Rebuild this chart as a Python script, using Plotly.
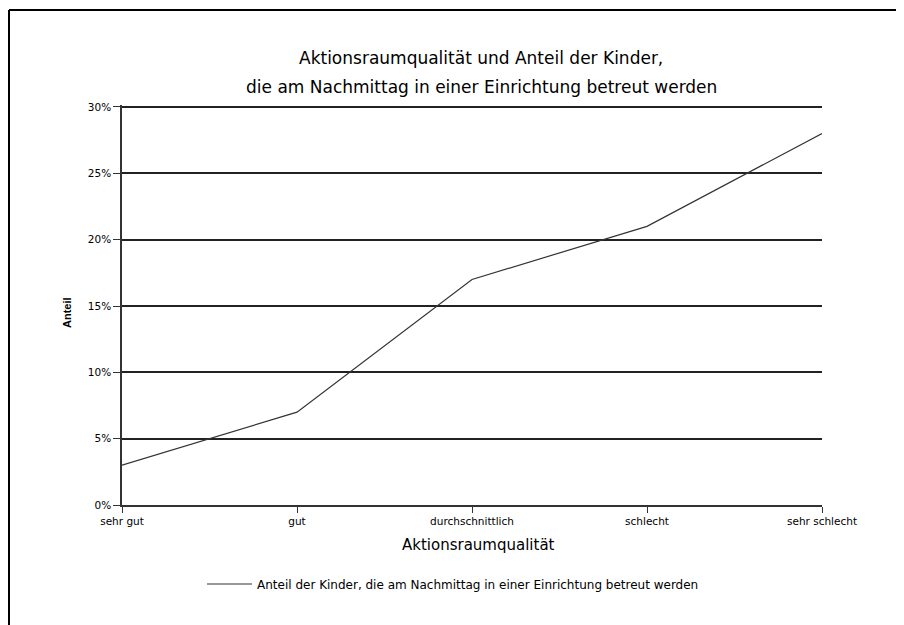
import plotly.graph_objects as go

categories = ["sehr gut", "gut", "durchschnittlich", "schlecht", "sehr schlecht"]
anteil = [0.03, 0.07, 0.17, 0.21, 0.28]
series_name = "Anteil der Kinder, die am Nachmittag in einer Einrichtung betreut werden"
title_lines = ["Aktionsraumqualität und Anteil der Kinder,",
               "die am Nachmittag in einer Einrichtung betreut werden"]
y_ticks = [0, 0.05, 0.10, 0.15, 0.20, 0.25, 0.30]
y_ticktext = ["0%", "5%", "10%", "15%", "20%", "25%", "30%"]

FONT = "Liberation Sans, Arial, sans-serif"
WIDE = "DejaVu Sans, Verdana, sans-serif"

OFF = 8  # page body margin
W, H = 904, 625
YMAX = 0.3015
L = 122 - OFF
PR, PB = 822 - OFF, 505 - OFF
ph = round((505 - 107) * YMAX / 0.30)
T = PB - ph
R, B = W - PR, H - PB
pw = PR - L

def px_x(px):
    return (px - OFF - L) / pw

def px_y(py):
    return (PB - (py - OFF)) / ph

fig = go.Figure()
fig.add_trace(go.Scatter(
    x=categories, y=anteil, mode="lines", name=series_name,
    line=dict(color="#333333", width=1.2),
    showlegend=True,
))

annotations = [
    dict(text=title_lines[0], x=px_x(481), y=px_y(58), xref="paper", yref="paper",
         showarrow=False, font=dict(family=WIDE, size=17, color="#000"), xanchor="center", yanchor="middle"),
    dict(text=title_lines[1], x=px_x(481), y=px_y(87), xref="paper", yref="paper",
         showarrow=False, font=dict(family=WIDE, size=17, color="#000"), xanchor="center", yanchor="middle"),
    dict(text="Aktionsraumqualität", x=px_x(478), y=px_y(545), xref="paper", yref="paper",
         showarrow=False, font=dict(family=WIDE, size=15, color="#000"), xanchor="center", yanchor="middle"),
    dict(text="<b>Anteil</b>", x=px_x(67), y=px_y(313), xref="paper", yref="paper", textangle=-90,
         showarrow=False, font=dict(family=FONT, size=11, color="#000"), xanchor="center", yanchor="middle"),
]

shapes = [
    dict(type="line", xref="paper", yref="paper", x0=px_x(9), x1=px_x(930), y0=px_y(10), y1=px_y(10),
         line=dict(color="#000", width=2)),
    dict(type="line", xref="paper", yref="paper", x0=px_x(9), x1=px_x(9), y0=px_y(10), y1=px_y(640),
         line=dict(color="#000", width=2)),
]

fig.update_layout(
    width=W, height=H,
    margin=dict(l=L, r=R, t=T, b=B),
    paper_bgcolor="white", plot_bgcolor="white",
    font=dict(family=FONT, size=9, color="#000"),
    annotations=annotations,
    shapes=shapes,
    xaxis=dict(
        type="category", range=[0, 4],
        showline=True, linecolor="#333", linewidth=1.5,
        ticks="outside", ticklen=6, tickcolor="#333", tickwidth=1.2,
        showgrid=False, zeroline=False,
        tickfont=dict(family=WIDE, size=10.5),
    ),
    yaxis=dict(
        range=[0, YMAX], tickvals=y_ticks, ticktext=y_ticktext,
        showline=True, linecolor="#333", linewidth=1.5,
        ticks="outside", ticklen=7, tickcolor="#333", tickwidth=1.2,
        showgrid=True, gridcolor="#222", gridwidth=1.5,
        zeroline=False,
        tickfont=dict(family=WIDE, size=10.5),
    ),
    legend=dict(
        orientation="h", x=px_x(202), y=px_y(584), xanchor="left", yanchor="middle",
        font=dict(family=WIDE, size=12), bgcolor="rgba(0,0,0,0)", itemwidth=45,
    ),
)

fig.write_html("out.html")
